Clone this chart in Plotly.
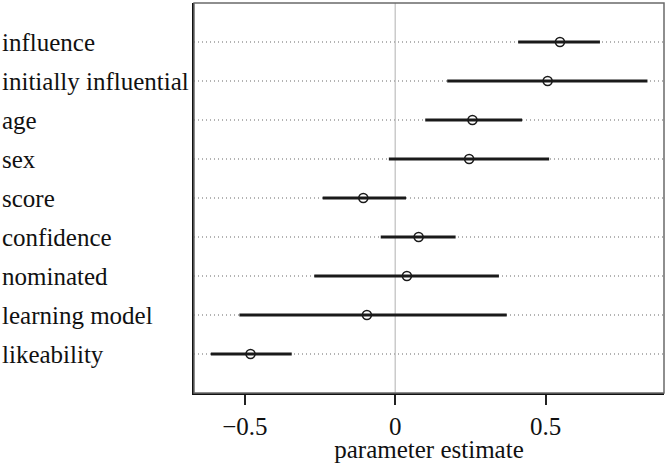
import plotly.graph_objects as go

# valeurs
variables = ["influence", "initially influential", "age", "sex", "score",
             "confidence", "nominated", "learning model", "likeability"]
estimate = [0.548, 0.507, 0.257, 0.246, -0.106, 0.078, 0.039, -0.094, -0.481]
lower = [0.409, 0.173, 0.100, -0.021, -0.241, -0.048, -0.269, -0.518, -0.613]
upper = [0.681, 0.839, 0.422, 0.512, 0.036, 0.201, 0.345, 0.371, -0.344]
x_ticks = [-0.5, 0, 0.5]
x_ticklabels = ["\u22120.5", "0", "0.5"]

rows = list(range(1, len(variables) + 1))
font_serif = "Liberation Serif, Times New Roman, serif"

fig = go.Figure()

# lignes pointillees de fond
for r in rows:
    fig.add_shape(type="line", xref="x domain", yref="y",
                  x0=0, x1=1, y0=r, y1=r,
                  line=dict(color="#9a9a9a", width=1.4, dash="1px,3px"),
                  layer="below")

# ligne verticale a zero
fig.add_vline(x=0, line=dict(color="#b0b0b0", width=1), layer="below")

# intervalles
for r, lo, hi in zip(rows, lower, upper):
    fig.add_trace(go.Scatter(
        x=[lo, hi], y=[r, r], mode="lines",
        line=dict(color="#1a1a1a", width=3),
        showlegend=False, hoverinfo="skip"))

# estimations
fig.add_trace(go.Scatter(
    x=estimate, y=rows, mode="markers",
    marker=dict(symbol="circle-open", size=9, color="#1a1a1a",
                line=dict(width=1.6, color="#1a1a1a")),
    showlegend=False,
    hovertemplate="%{text}: %{x:.2f}<extra></extra>", text=variables))

# etiquettes a gauche, alignees a gauche
for r, name in zip(rows, variables):
    fig.add_annotation(x=-0.4128, xref="paper", y=r, yref="y",
                       text=name, showarrow=False, xanchor="left",
                       font=dict(family=font_serif, size=25, color="#111"))

# cadre gris
fig.add_shape(type="rect", xref="x domain", yref="y domain",
              x0=0, x1=1, y0=0, y1=1,
              line=dict(color="#6a6a6a", width=1.5))

fig.update_layout(
    width=667, height=463,
    margin=dict(l=194, r=3, t=3, b=66),
    plot_bgcolor="white", paper_bgcolor="white",
    font=dict(family=font_serif, size=25, color="#111"),
    showlegend=False,
)

fig.update_xaxes(
    range=[-0.669, 0.894],
    tickvals=x_ticks, ticktext=x_ticklabels,
    ticks="outside", ticklen=10, tickwidth=1.5, tickcolor="#222",
    showline=True, linecolor="#111", linewidth=1.8,
    showgrid=False, zeroline=False,
    title=dict(text="parameter estimate", standoff=3,
               font=dict(family=font_serif, size=25)),
    tickfont=dict(family=font_serif, size=25),
)
fig.update_yaxes(
    range=[10, 0], showticklabels=False, ticks="",
    showline=True, linecolor="#111", linewidth=1.8,
    showgrid=False, zeroline=False,
)

fig.write_html("out.html", config={"displayModeBar": False},
               post_script="document.body.style.margin='0';")
